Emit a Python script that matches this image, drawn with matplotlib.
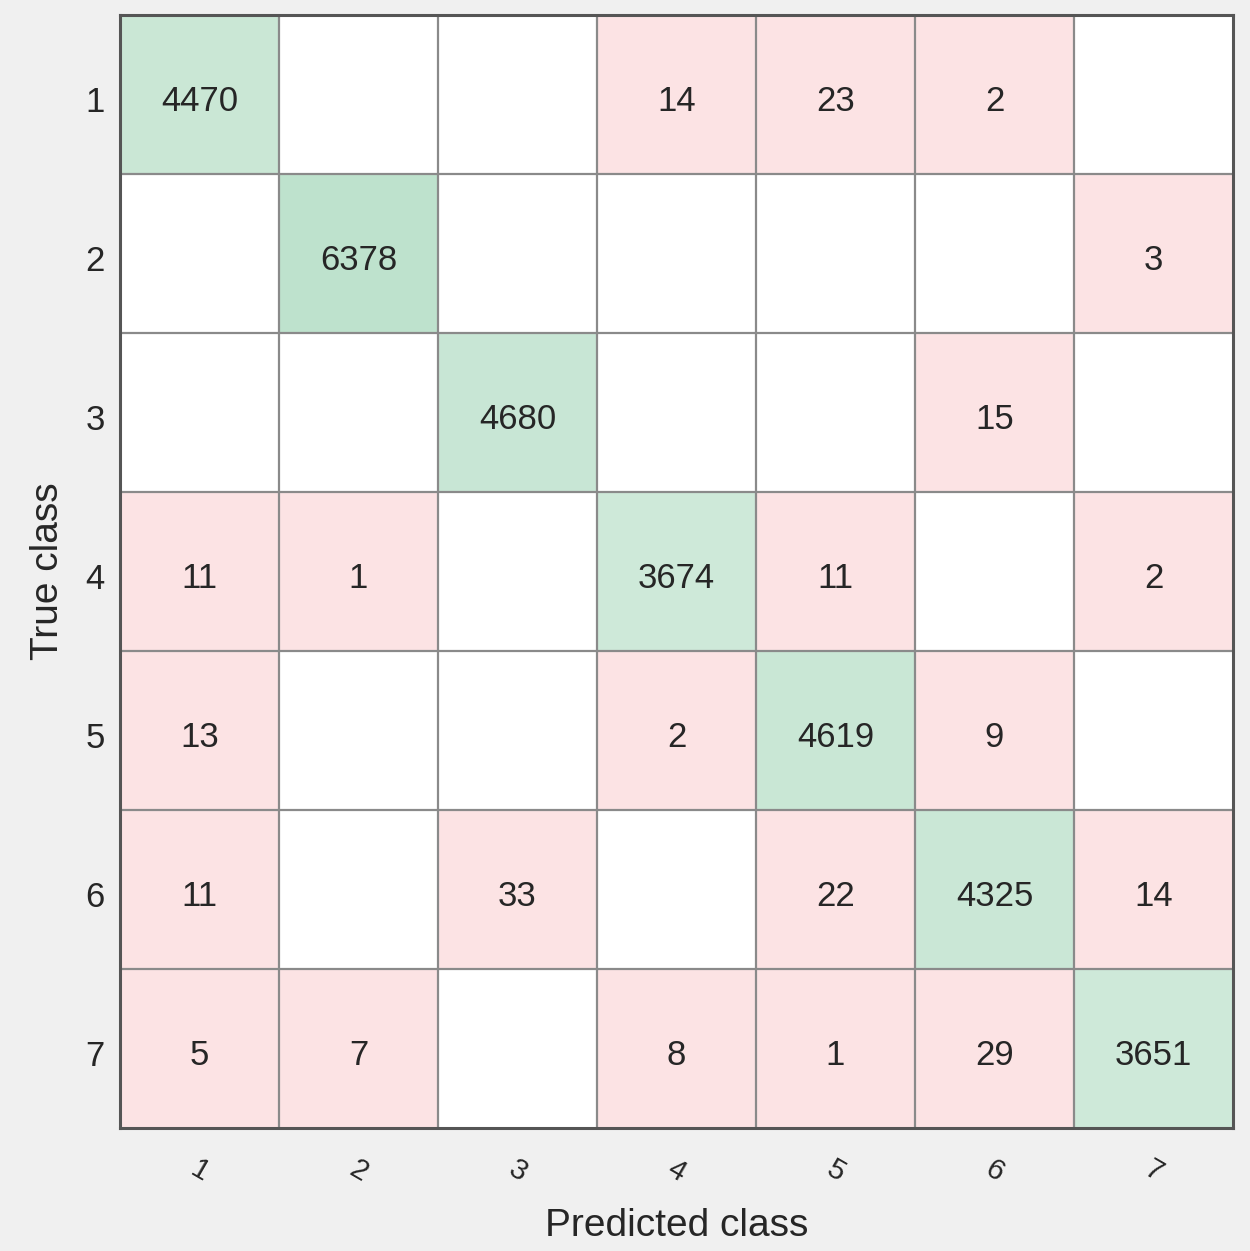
import numpy as np
import matplotlib.pyplot as plt
import matplotlib.transforms as mtransforms
from matplotlib.colors import to_rgb

plt.rcParams['font.family'] = ['Liberation Sans', 'DejaVu Sans']

# Confusion matrix values (rows = true class, cols = predicted class)
class_labels = ['1', '2', '3', '4', '5', '6', '7']
row1 = [4470, 0, 0, 14, 23, 2, 0]
row2 = [0, 6378, 0, 0, 0, 0, 3]
row3 = [0, 0, 4680, 0, 0, 15, 0]
row4 = [11, 1, 0, 3674, 11, 0, 2]
row5 = [13, 0, 0, 2, 4619, 9, 0]
row6 = [11, 0, 33, 0, 22, 4325, 14]
row7 = [5, 7, 0, 8, 1, 29, 3651]

cm = np.array([row1, row2, row3, row4, row5, row6, row7])
n = len(class_labels)

# Cell colours: green diagonal shaded by count, pink off-diagonal, white zeros
green = np.array(to_rgb('#4db075'))
pink = np.array(to_rgb('#fce3e4'))
white = np.ones(3)
vmax = cm.max()
colors = np.ones((n, n, 3))
for i in range(n):
    for j in range(n):
        v = cm[i, j]
        if v == 0:
            continue
        if i == j:
            a = 0.15 + 0.21 * v / vmax
            colors[i, j] = white * (1 - a) + green * a
        else:
            colors[i, j] = pink

fig = plt.figure(figsize=(12.5, 12.51), dpi=100, facecolor='#f0f0f0')
ax = fig.add_axes([0.096, 0.0983, 0.8904, 0.8897])

ax.imshow(colors, extent=(0.5, n + 0.5, n + 0.5, 0.5), aspect='auto',
          interpolation='nearest')

# grid lines between cells
for k in range(1, n):
    ax.axhline(k + 0.5, color='#8a8a8a', lw=1.6)
    ax.axvline(k + 0.5, color='#8a8a8a', lw=1.6)

for i in range(n):
    for j in range(n):
        if cm[i, j] != 0:
            ax.text(j + 1, i + 1.045, str(cm[i, j]), ha='center', va='center',
                    fontsize=25, color='#262626')

ax.set_xlim(0.5, n + 0.5)
ax.set_ylim(n + 0.5, 0.5)
ax.set_xticks(range(1, n + 1))
ax.set_yticks(range(1, n + 1))
ax.set_yticklabels(class_labels, fontsize=25, color='#262626')
ax.set_xticklabels(class_labels, fontsize=21, color='#262626',
                   rotation=-30, ha='center', va='center')
ax.tick_params(axis='both', length=0)
ax.tick_params(axis='x', pad=31)
ax.tick_params(axis='y', pad=11)

# nudge y tick labels down a little
shift = mtransforms.ScaledTranslation(0, -4 / 100, fig.dpi_scale_trans)
for lab in ax.get_yticklabels():
    lab.set_transform(lab.get_transform() + shift)

for s in ax.spines.values():
    s.set_color('#555555')
    s.set_linewidth(2.2)

ax.set_xlabel('Predicted class', fontsize=28, color='#262626', labelpad=15)
ax.set_ylabel('True class', fontsize=28, color='#262626', labelpad=14)

fig.savefig('out.png', dpi=100, facecolor=fig.get_facecolor())
